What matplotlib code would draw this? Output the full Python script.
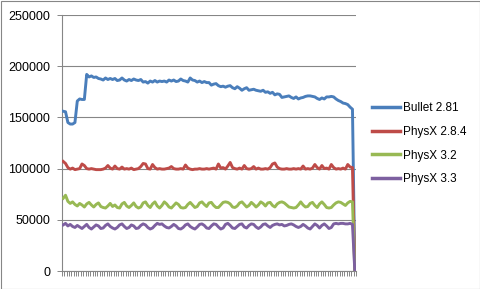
import numpy as np
import matplotlib
matplotlib.use("Agg")
import matplotlib.pyplot as plt
from matplotlib.patches import Rectangle

series_names = ["Bullet 2.81", "PhysX 2.8.4", "PhysX 3.2", "PhysX 3.3"]
colors = ["#4A7EBB", "#BE4B48", "#98B954", "#7D60A0"]

bullet = [
    156000, 155500, 145000, 143500, 143500, 145000, 166000, 168000, 167500, 167500,
    192000, 189500, 190500, 189000, 189500, 188000, 187500, 186500, 188500, 187000,
    188000, 187000, 188000, 186000, 186500, 188500, 186500, 185500, 187000, 186000,
    187500, 186500, 186000, 187000, 184500, 185000, 183500, 185500, 184500, 186000,
    184500, 185500, 185000, 185500, 184500, 186500, 185500, 186500, 185000, 185500,
    187500, 186000, 185500, 184500, 188500, 186500, 186000, 184500, 185500, 184000,
    185000, 184000, 184000, 181500, 182500, 183000, 181000, 180000, 180500, 179500,
    180500, 181000, 179000, 178000, 180000, 178500, 176500, 178000, 179000, 176500,
    177000, 177500, 176500, 176000, 175500, 176500, 174500, 175000, 173500, 174500,
    172000, 173000, 172500, 169500, 170000, 170500, 171000, 169500, 168500, 170000,
    168000, 169000, 169500, 170500, 171000, 171000, 170500, 170000, 168500, 167500,
    169000, 168000, 170000, 170000, 170500, 170000, 168000, 166500, 165500, 164000,
    163500, 162500, 160000, 158000, 0,
]

physx284 = [
    107000, 105000, 101000, 99500, 100500, 99000, 99500, 100000, 104500, 103000,
    100000, 99500, 100000, 99500, 99000, 99000, 99000, 99500, 100500, 103000,
    100500, 99500, 102500, 100000, 99500, 101500, 99500, 100000, 99500, 100500,
    99000, 99500, 100000, 102000, 105000, 104500, 100000, 99500, 104000, 101000,
    99500, 100000, 99500, 99500, 100000, 100500, 102000, 100000, 99500, 99500,
    100000, 99500, 103500, 100500, 99500, 99000, 99500, 99500, 100000, 99500,
    99500, 100000, 99500, 100000, 100500, 99500, 104500, 100500, 101000, 99500,
    102500, 106000, 101000, 100000, 99500, 100500, 99500, 103000, 100000, 99500,
    100000, 102000, 99500, 100500, 99500, 99500, 100000, 99500, 101000, 104500,
    105500, 101500, 100000, 99500, 99500, 100000, 99500, 99500, 100000, 99500,
    100000, 99500, 102500, 99500, 100000, 99500, 100500, 104000, 101000, 99500,
    103000, 100000, 100500, 99500, 104000, 101000, 99500, 100000, 99500, 100500,
    99500, 104000, 101500, 101000, 0,
]

physx32 = [
    71000, 74000, 68000, 66000, 67500, 65000, 63500, 66000, 64500, 62500,
    65500, 67000, 64500, 62500, 65000, 66500, 63000, 62000, 61500, 63500,
    66000, 63000, 64500, 62000, 61500, 65500, 67000, 63500, 62000, 64000,
    66500, 63000, 61500, 62500, 66500, 67500, 64000, 62000, 65500, 67500,
    63500, 61500, 64000, 67500, 65500, 62500, 61500, 64000, 66500, 65000,
    62000, 61500, 62000, 65000, 67000, 64500, 62000, 63000, 66500, 67500,
    65000, 63000, 66500, 67000, 64000, 62000, 62000, 64500, 67000, 67500,
    67000, 65500, 62500, 62000, 63500, 66500, 67500, 65000, 62500, 64000,
    67000, 65000, 62500, 64500, 67500, 66000, 63500, 66500, 67000, 64000,
    62500, 65500, 67000, 67500, 66500, 64500, 62500, 62000, 61500, 62000,
    64500, 67500, 64500, 62500, 63000, 66000, 67000, 64000, 62000, 65500,
    67500, 65000, 62000, 61500, 62000, 64500, 66500, 67500, 67000, 65500,
    64000, 66500, 68000, 67500, 0,
]

physx33 = [
    45000, 46500, 44000, 45500, 43500, 42500, 44500, 43000, 41500, 43500,
    45500, 42500, 41000, 43000, 45000, 44000, 41500, 42000, 44500, 46000,
    43500, 42000, 41000, 42500, 45000, 46000, 43500, 41500, 42500, 45000,
    44000, 41500, 42000, 44500, 46000, 45000, 42500, 41000, 42000, 44500,
    46500, 45500, 46000, 44000, 42500, 42000, 43500, 45500, 44000, 41500,
    41000, 42500, 45000, 46000, 43500, 42000, 41000, 43000, 45500, 46000,
    44500, 42000, 41500, 44000, 46000, 45500, 43000, 41000, 42000, 45500,
    46500, 44500, 42000, 41500, 43500, 45500, 46000, 43000, 42000, 44500,
    46000, 45500, 43000, 41500, 43000, 45500, 46000, 44000, 42500, 44500,
    45500, 46000, 45000, 45500, 44000, 44500, 45500, 46000, 45000, 43500,
    42500, 43500, 45500, 44000, 42000, 41000, 43500, 46000, 44500, 42000,
    44500, 46000, 44000, 41500, 42500, 46000, 46500, 46000, 46500, 46500,
    46000, 46000, 46500, 45500, 0,
]

y_ticks = [0, 50000, 100000, 150000, 200000, 250000]

all_series = [bullet, physx284, physx32, physx33]
n = len(bullet)
x = np.arange(n)

plt.rcParams['font.family'] = ['Liberation Sans', 'DejaVu Sans']
fig = plt.figure(figsize=(4.81, 2.89), dpi=100)
W, H = 481, 289
ax = fig.add_axes([62 / W, 1 - 271 / H, (356 - 62) / W, (271 - 15) / H])

grid_c = "#868686"
for yt in y_ticks:
    ax.axhline(yt, color=grid_c, lw=0.8, zorder=1)

for s, name, c in zip(all_series, series_names, colors):
    ax.plot(x, s, color=c, lw=2.1, label=name, solid_joinstyle='round', zorder=3)

ax.set_xlim(-0.5, n - 0.5)
ax.set_ylim(0, 250000)
ax.set_yticks(y_ticks)
ax.set_yticklabels([str(v) for v in y_ticks], fontsize=9)
ax.set_xticks(np.arange(-0.5, n, 1.0))
ax.set_xticklabels([])
ax.tick_params(axis='x', length=3.5, width=0.7, color=grid_c, direction='out')
ax.tick_params(axis='y', length=3.5, width=0.7, color=grid_c, direction='out', pad=5)
for sp in ['top', 'right']:
    ax.spines[sp].set_visible(False)
for sp in ['left', 'bottom']:
    ax.spines[sp].set_color(grid_c)
    ax.spines[sp].set_linewidth(0.8)

leg = fig.legend(loc='upper left', bbox_to_anchor=(372 / W, 1 - 102 / H),
                 frameon=False, fontsize=8.5, handlelength=2.35, handletextpad=0.25,
                 labelspacing=1.0, borderpad=0, borderaxespad=0)
for line in leg.get_lines():
    line.set_linewidth(2.5)

fig.patches.append(Rectangle((0.5 / W, 0.5 / H), 1 - 1.5 / W, 1 - 1.5 / H,
                             transform=fig.transFigure, fill=False,
                             edgecolor=grid_c, lw=0.8))

fig.savefig("out.png", dpi=100)
